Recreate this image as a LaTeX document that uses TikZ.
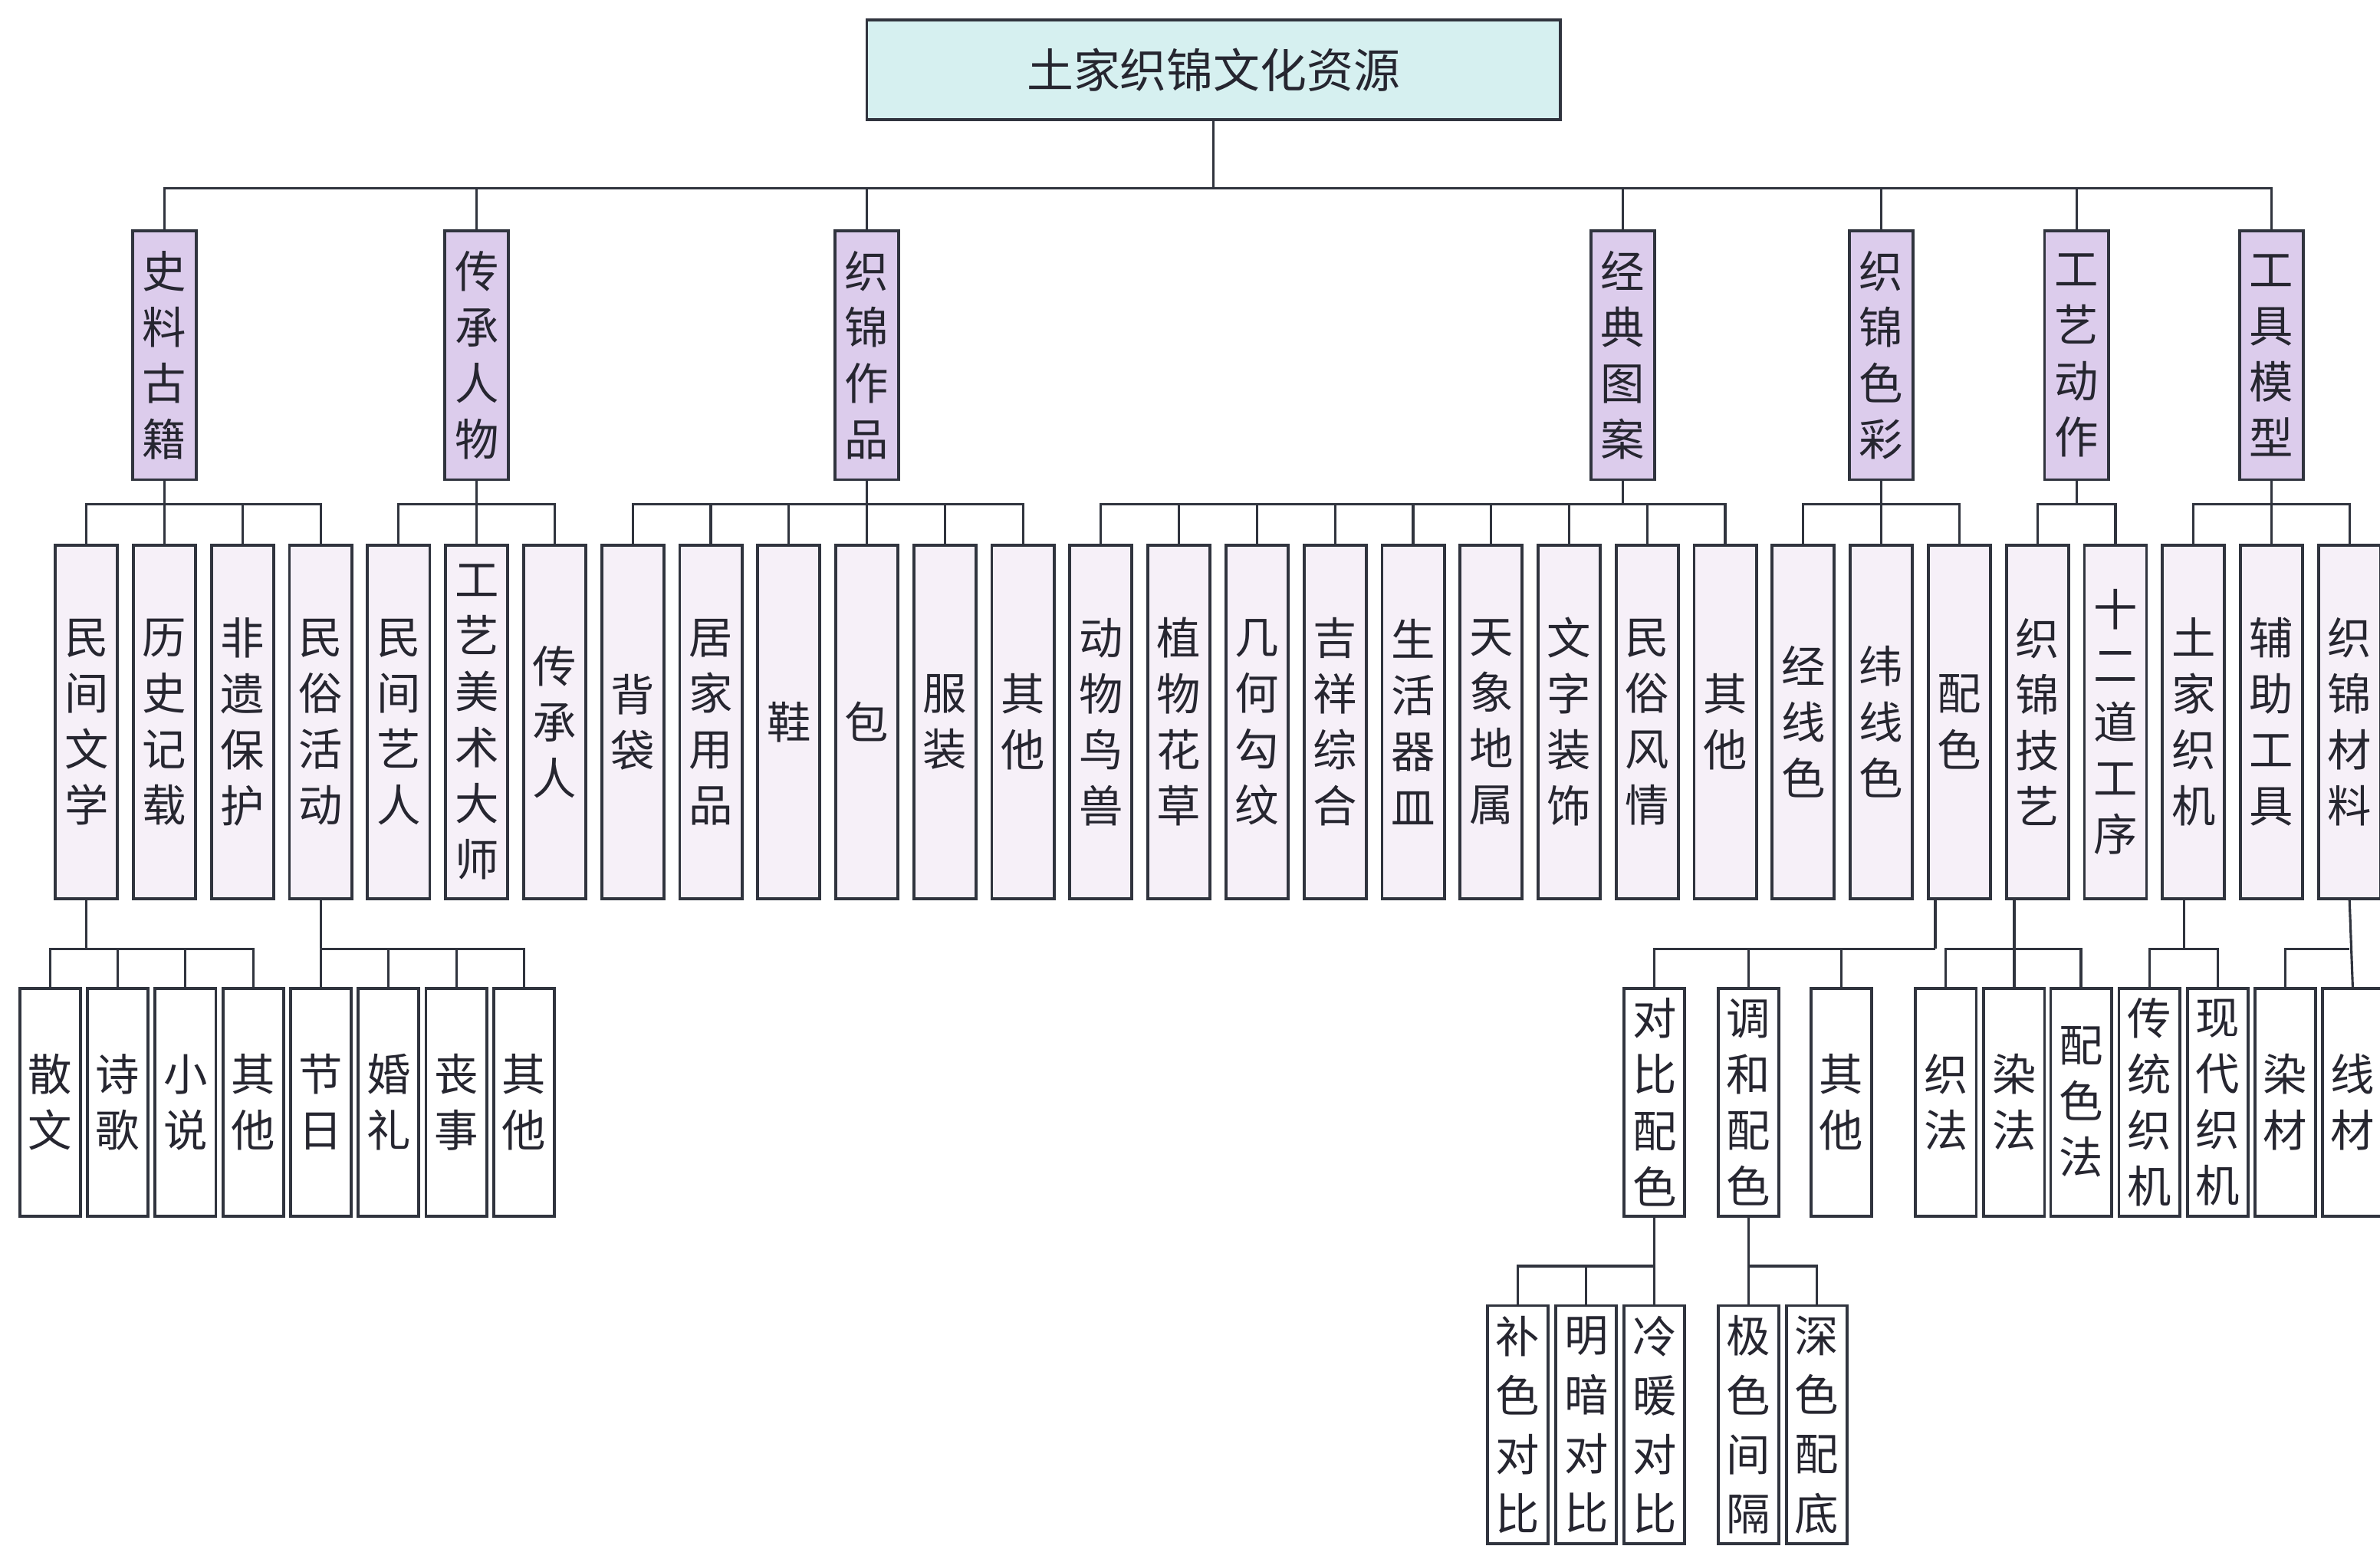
\documentclass[tikz,border=0pt]{standalone}
\usepackage{fontspec}
\setmainfont{Noto Sans CJK SC}
\definecolor{rootc}{RGB}{214,240,240}
\definecolor{lvA}{RGB}{220,204,236}
\definecolor{lvB}{RGB}{246,240,248}
\definecolor{bordc}{RGB}{48,52,62}
\definecolor{linec}{RGB}{48,52,62}
\definecolor{txtc}{RGB}{38,38,48}
\begin{document}
\begin{tikzpicture}[x=0.02cm,y=-0.02cm,
  box/.style={draw=bordc, line width=1.1pt, inner sep=0pt, align=center, text=txtc,
    font=\fontsize{16.5pt}{21pt}\selectfont},
  rootbox/.style={box, fill=rootc, minimum width=9.14cm, minimum height=1.32cm,
    font=\fontsize{17.5pt}{21pt}\selectfont},
  boxA/.style={box, fill=lvA, minimum width=0.84cm, minimum height=3.28cm},
  boxB/.style={box, fill=lvB, minimum width=0.82cm, minimum height=4.66cm},
  boxC/.style={box, fill=white, minimum width=0.80cm, minimum height=3.0cm},
  boxD/.style={box, fill=white, minimum width=0.80cm, minimum height=3.14cm,
    font=\fontsize{16.5pt}{22.2pt}\selectfont},
  conn/.style={draw=linec, line width=0.9pt}]
\useasboundingbox (0,0) rectangle (1568,1018);
\fill[white] (0,0) rectangle (1568,1018);

\coordinate (b1) at (0,124);
\coordinate (b2) at (0,332);
\coordinate (b3) at (0,625);
\coordinate (b4) at (0,834);

% root
\node[rootbox] (root) at (799.5,46) {土家织锦文化资源};

% level 1
\node[boxA] (A1) at (108.4,234) {史\\料\\古\\籍};
\node[boxA] (A2) at (314.1,234) {传\\承\\人\\物};
\node[boxA] (A3) at (571.1,234) {织\\锦\\作\\品};
\node[boxA] (A4) at (1069,234) {经\\典\\图\\案};
\node[boxA] (A5) at (1239.4,234) {织\\锦\\色\\彩};
\node[boxA] (A6) at (1368,234) {工\\艺\\动\\作};
\node[boxA] (A7) at (1496.5,234) {工\\具\\模\\型};

% level 2
\node[boxB] (B0) at (57,475.5) {民\\间\\文\\学};
\node[boxB] (B1) at (108.4,475.5) {历\\史\\记\\载};
\node[boxB] (B2) at (159.8,475.5) {非\\遗\\保\\护};
\node[boxB] (B3) at (211.2,475.5) {民\\俗\\活\\动};
\node[boxB] (B4) at (262.6,475.5) {民\\间\\艺\\人};
\node[boxB] (B5) at (314.1,475.5) {工\\艺\\美\\术\\大\\师};
\node[boxB] (B6) at (365.5,475.5) {传\\承\\人};
\node[boxB] (B7) at (416.9,475.5) {背\\袋};
\node[boxB] (B8) at (468.3,475.5) {居\\家\\用\\品};
\node[boxB] (B9) at (519.7,475.5) {鞋};
\node[boxB] (B10) at (571.1,475.5) {包};
\node[boxB] (B11) at (622.5,475.5) {服\\装};
\node[boxB] (B12) at (673.9,475.5) {其\\他};
\node[boxB] (B13) at (725.3,475.5) {动\\物\\鸟\\兽};
\node[boxB] (B14) at (776.7,475.5) {植\\物\\花\\草};
\node[boxB] (B15) at (828.2,475.5) {几\\何\\勾\\纹};
\node[boxB] (B16) at (879.6,475.5) {吉\\祥\\综\\合};
\node[boxB] (B17) at (931,475.5) {生\\活\\器\\皿};
\node[boxB] (B18) at (982.4,475.5) {天\\象\\地\\属};
\node[boxB] (B19) at (1033.8,475.5) {文\\字\\装\\饰};
\node[boxB] (B20) at (1085.2,475.5) {民\\俗\\风\\情};
\node[boxB] (B21) at (1136.6,475.5) {其\\他};
\node[boxB] (B22) at (1188,475.5) {经\\线\\色};
\node[boxB] (B23) at (1239.4,475.5) {纬\\线\\色};
\node[boxB] (B24) at (1290.9,475.5) {配\\色};
\node[boxB] (B25) at (1342.3,475.5) {织\\锦\\技\\艺};
\node[boxB] (B26) at (1393.7,475.5) {十\\二\\道\\工\\序};
\node[boxB] (B27) at (1445.1,475.5) {土\\家\\织\\机};
\node[boxB] (B28) at (1496.5,475.5) {辅\\助\\工\\具};
\node[boxB] (B29) at (1547.9,475.5) {织\\锦\\材\\料};

% level 3 left
\node[boxC] (C0) at (33,726) {散\\文};
\node[boxC] (C1) at (77.6,726) {诗\\歌};
\node[boxC] (C2) at (122.2,726) {小\\说};
\node[boxC] (C3) at (166.8,726) {其\\他};
\node[boxC] (C4) at (211.4,726) {节\\日};
\node[boxC] (C5) at (256,726) {婚\\礼};
\node[boxC] (C6) at (300.6,726) {丧\\事};
\node[boxC] (C7) at (345.2,726) {其\\他};

% level 3 right
\node[boxC] (D0) at (1090,726) {对\\比\\配\\色};
\node[boxC] (D1) at (1152,726) {调\\和\\配\\色};
\node[boxC] (D2) at (1213,726) {其\\他};
\node[boxC] (E0) at (1282,726) {织\\法};
\node[boxC] (E1) at (1327,726) {染\\法};
\node[boxC] (E2) at (1371,726) {配\\色\\法};
\node[boxC] (F0) at (1416,726) {传\\统\\织\\机};
\node[boxC] (F1) at (1461,726) {现\\代\\织\\机};
\node[boxC] (G0) at (1505.5,726) {染\\材};
\node[boxC] (G1) at (1550,726) {线\\材};

% level 4
\node[boxD] (H0) at (1000,938.5) {补\\色\\对\\比};
\node[boxD] (H1) at (1045,938.5) {明\\暗\\对\\比};
\node[boxD] (H2) at (1090,938.5) {冷\\暖\\对\\比};
\node[boxD] (H3) at (1152,938.5) {极\\色\\间\\隔};
\node[boxD] (H4) at (1197,938.5) {深\\色\\配\\底};

% offset stems
\coordinate (peiS) at (1275,592);
\coordinate (jyS) at (1327,592);
\coordinate (tjS) at (1439,592);

% connectors root -> level1
\draw[conn] (root.south) -- (root.south |- b1);
\foreach \c in {A1,A2,A3,A4,A5,A6,A7}
  \draw[conn] (\c.north) |- (root.south |- b1);

% level1 -> level2
\draw[conn] (A1.south) -- (A1.south |- b2);
\foreach \c in {B0,B1,B2,B3} \draw[conn] (\c.north) |- (A1.south |- b2);
\draw[conn] (A2.south) -- (A2.south |- b2);
\foreach \c in {B4,B5,B6} \draw[conn] (\c.north) |- (A2.south |- b2);
\draw[conn] (A3.south) -- (A3.south |- b2);
\foreach \c in {B7,B8,B9,B10,B11,B12} \draw[conn] (\c.north) |- (A3.south |- b2);
\draw[conn] (A4.south) -- (A4.south |- b2);
\foreach \c in {B13,B14,B15,B16,B17,B18,B19,B20,B21} \draw[conn] (\c.north) |- (A4.south |- b2);
\draw[conn] (A5.south) -- (A5.south |- b2);
\foreach \c in {B22,B23,B24} \draw[conn] (\c.north) |- (A5.south |- b2);
\draw[conn] (A6.south) -- (A6.south |- b2);
\foreach \c in {B25,B26} \draw[conn] (\c.north) |- (A6.south |- b2);
\draw[conn] (A7.south) -- (A7.south |- b2);
\foreach \c in {B27,B28,B29} \draw[conn] (\c.north) |- (A7.south |- b2);

% level2 -> level3
\draw[conn] (B0.south) -- (B0.south |- b3);
\foreach \c in {C0,C1,C2,C3} \draw[conn] (\c.north) |- (B0.south |- b3);
\draw[conn] (B3.south) -- (B3.south |- b3);
\foreach \c in {C4,C5,C6,C7} \draw[conn] (\c.north) |- (B3.south |- b3);
\draw[conn] (peiS) -- (peiS |- b3);
\foreach \c in {D0,D1,D2} \draw[conn] (\c.north) |- (peiS |- b3);
\draw[conn] (jyS) -- (E1.north);
\draw[conn] (E0.north) |- (E2.north |- b3) -- (E2.north);
\draw[conn] (tjS) -- (tjS |- b3);
\foreach \c in {F0,F1} \draw[conn] (\c.north) |- (tjS |- b3);
\draw[conn] (B29.south) -- (G1.north);
\draw[conn] (G0.north) |- (B29.south |- b3);

% level3 -> level4
\draw[conn] (D0.south) -- (D0.south |- b4);
\foreach \c in {H0,H1,H2} \draw[conn] (\c.north) |- (D0.south |- b4);
\draw[conn] (D1.south) -- (D1.south |- b4);
\foreach \c in {H3,H4} \draw[conn] (\c.north) |- (D1.south |- b4);
\end{tikzpicture}
\end{document}
